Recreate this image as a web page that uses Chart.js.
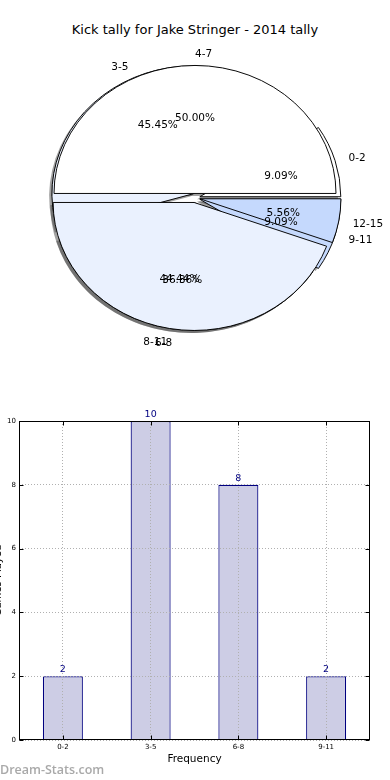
<!DOCTYPE html>
<html><head><meta charset="utf-8">
<script src="https://cdn.jsdelivr.net/npm/chart.js@4.4.1/dist/chart.umd.min.js"></script>
<style>
html,body{margin:0;padding:0;background:#fff;}
body{width:390px;height:780px;position:relative;overflow:hidden;font-family:"DejaVu Sans",sans-serif;}
#title{position:absolute;left:0;top:22px;width:390px;text-align:center;font-size:13px;line-height:16px;color:#000;}
canvas{position:absolute;left:0;}
#pieA,#pieB{top:0;}
#bars{top:400px;}
#wm{position:absolute;left:0;top:762px;font-family:"Open Sans",sans-serif;font-weight:600;font-size:12.5px;color:#a9a9a9;line-height:16px;}
</style></head><body>
<div id="title"></div>
<canvas id="pieA" width="390" height="396"></canvas>
<canvas id="pieB" width="390" height="396"></canvas>
<canvas id="bars" width="390" height="380"></canvas>
<div id="wm">Dream-Stats.com</div>
<script>
// ---- data ----
const chartTitle = 'Kick tally for Jake Stringer - 2014 tally';
const pieALabels = ['0-2', '3-5', '6-8', '9-11'];
const pieAValues = [2, 10, 8, 2];
const pieBLabels = ['4-7', '8-11', '12-15'];
const pieBValues = [9, 8, 1];
const barLabels = ['0-2', '3-5', '6-8', '9-11'];
const barValues = [2, 10, 8, 2];
const yTickMax = 10;
const yTickStep = 2;
const xAxisTitle = 'Frequency';
const yAxisTitle = 'Games Played';

// ---- styles ----
const pieAColors = ['#ffffff', '#eaf1fe', '#ffffff', '#c5d9fd'];
const pieBColors = ['#ffffff', '#eaf1fe', '#c5d9fd'];
const PIE_R = 141, SY = 128 / 141, EXPL = 5, SH_DX = -2.8, SH_DY = 2.8, TEXT_DY = 1.5;
const FONT = '"DejaVu Sans", sans-serif';

document.getElementById('title').textContent = chartTitle;

let pieAChart, pieBChart;

const ellipsePlugin = {
  id: 'ellipse',
  beforeDatasetsDraw(chart) {
    const ctx = chart.ctx;
    const arcs = chart.getDatasetMeta(0).data;
    arcs.forEach(el => {
      if (!el._explPatched) {
        el._explPatched = true;
        const orig = Object.getPrototypeOf(el).draw;
        el.draw = function (c, a) {
          const m = (this.startAngle + this.endAngle) / 2;
          c.save();
          c.translate(Math.cos(m) * EXPL, Math.sin(m) * EXPL);
          orig.call(this, c, a);
          c.restore();
        };
      }
    });
    const cy = arcs[0].y;
    ctx.save();
    ctx.translate(0, cy);
    ctx.scale(1, SY);
    ctx.translate(0, -cy);
  },
  afterDatasetsDraw(chart) { chart.ctx.restore(); }
};

const shadowPlugin = {
  id: 'pieshadow',
  beforeDatasetsDraw(chart) {
    const ctx = chart.ctx;
    ctx.save();
    ctx.fillStyle = 'rgba(70,70,70,0.5)';
    [pieAChart || chart, pieBChart].forEach(c => {
      if (!c) return;
      c.getDatasetMeta(0).data.forEach(el => {
        const m = (el.startAngle + el.endAngle) / 2;
        const ox = el.x + Math.cos(m) * EXPL + SH_DX;
        const oy = el.y + Math.sin(m) * EXPL + SH_DY;
        ctx.beginPath();
        ctx.moveTo(ox, oy);
        ctx.arc(ox, oy, el.outerRadius, el.startAngle, el.endAngle);
        ctx.closePath();
        ctx.fill();
      });
    });
    ctx.restore();
  }
};

const pieLabelPlugin = {
  id: 'pielabels',
  afterDraw(chart) {
    const ctx = chart.ctx;
    ctx.save();
    ctx.font = '10.5px ' + FONT;
    ctx.fillStyle = '#000';
    ctx.textBaseline = 'middle';
    const sets = [[pieAChart, pieALabels, pieAValues], [chart, pieBLabels, pieBValues]];
    sets.forEach(([c, labels, values]) => {
      if (!c) return;
      const total = values.reduce((a, b) => a + b, 0);
      c.getDatasetMeta(0).data.forEach((el, i) => {
        const k = labels.length - 1 - i;
        const m = (el.startAngle + el.endAngle) / 2;
        const R = el.outerRadius;
        const co = Math.cos(m), si = Math.sin(m);
        const lx = el.x + co * (1.1 * R + EXPL);
        const ly = el.y + si * (1.1 * R + EXPL) * SY + TEXT_DY;
        ctx.textAlign = co > -1e-9 ? 'left' : 'right';
        ctx.fillText(labels[k], lx, ly);
        const px = el.x + co * (0.6 * R + EXPL);
        const py = el.y + si * (0.6 * R + EXPL) * SY + TEXT_DY;
        ctx.textAlign = 'center';
        ctx.fillText((values[k] / total * 100).toFixed(2) + '%', px, py);
      });
    });
    ctx.restore();
  }
};

function pieConfig(labels, values, colors, plugins) {
  return {
    type: 'pie',
    data: {
      labels: labels.slice().reverse(),
      datasets: [{
        data: values.slice().reverse(),
        backgroundColor: colors.slice().reverse(),
        borderColor: '#000',
        borderWidth: 1
      }]
    },
    options: {
      responsive: false,
      animation: false,
      events: [],
      rotation: 90,
      radius: PIE_R,
      layout: { padding: 0 },
      plugins: { legend: { display: false }, tooltip: { enabled: false } }
    },
    plugins: plugins
  };
}

pieAChart = new Chart(document.getElementById('pieA'),
  pieConfig(pieALabels, pieAValues, pieAColors, [ellipsePlugin, shadowPlugin]));
pieBChart = new Chart(document.getElementById('pieB'),
  pieConfig(pieBLabels, pieBValues, pieBColors, [ellipsePlugin, pieLabelPlugin]));
pieAChart.draw();
pieBChart.draw();

// ---- bar chart ----
const framePlugin = {
  id: 'frame',
  afterDraw(chart) {
    const { ctx, chartArea: a, scales } = chart;
    ctx.save();
    ctx.strokeStyle = '#000';
    ctx.lineWidth = 1;
    const L = Math.round(a.left) + 0.5, R = Math.round(a.right) - 0.5;
    const T = Math.round(a.top) + 0.5, B = Math.round(a.bottom) - 0.5;
    ctx.strokeRect(L, T, R - L, B - T);
    const tl = 4;
    const seg = (x1, y1, x2, y2) => { ctx.beginPath(); ctx.moveTo(x1, y1); ctx.lineTo(x2, y2); ctx.stroke(); };
    scales.y.ticks.forEach(t => {
      const y = Math.round(scales.y.getPixelForValue(t.value)) + 0.5;
      seg(L, y, L + tl, y); seg(R, y, R - tl, y);
    });
    scales.x.ticks.forEach((t, i) => {
      const x = Math.round(scales.x.getPixelForTick(i)) + 0.5;
      seg(x, B, x, B - tl); seg(x, T, x, T + tl);
    });
    ctx.restore();
  }
};

const barValuePlugin = {
  id: 'barvalues',
  afterDatasetsDraw(chart) {
    const ctx = chart.ctx;
    ctx.save();
    ctx.font = '9.5px ' + FONT;
    ctx.fillStyle = '#000080';
    ctx.textAlign = 'center';
    ctx.textBaseline = 'bottom';
    chart.getDatasetMeta(0).data.forEach((el, i) => {
      ctx.fillText(String(barValues[i]), el.x, el.y - 2);
    });
    ctx.restore();
  }
};

new Chart(document.getElementById('bars'), {
  type: 'bar',
  data: {
    labels: barLabels,
    datasets: [{
      data: barValues,
      backgroundColor: '#cdcde5',
      borderColor: '#000080',
      borderWidth: 1.2,
      barPercentage: 0.456,
      categoryPercentage: 1
    }]
  },
  options: {
    responsive: false,
    animation: false,
    events: [],
    layout: { padding: { left: 0, right: 20, top: 21, bottom: 0 } },
    plugins: { legend: { display: false }, tooltip: { enabled: false } },
    scales: {
      x: {
        offset: true,
        grid: { offset: false, drawTicks: false, color: '#b0b0b0', lineWidth: 1, z: 1 },
        border: { display: false, dash: [1, 2] },
        ticks: { font: { size: 7, family: FONT }, color: '#000', padding: 3, maxRotation: 0 },
        title: { display: true, text: xAxisTitle, color: '#000', font: { size: 10.5, family: FONT }, padding: { top: 0, bottom: 14 } },
        afterFit(s) { s.height = 40; }
      },
      y: {
        min: 0,
        max: yTickMax,
        grid: { drawTicks: false, color: '#b0b0b0', lineWidth: 1, z: 1 },
        border: { display: false, dash: [1, 2] },
        ticks: { stepSize: yTickStep, font: { size: 7, family: FONT }, color: '#000', padding: 3 },
        title: { display: true, text: yAxisTitle, color: '#000', font: { size: 10, family: FONT }, padding: { top: -7.5, bottom: 0 } },
        afterFit(s) { s.width = 19; }
      }
    }
  },
  plugins: [framePlugin, barValuePlugin]
});
</script>
</body></html>
